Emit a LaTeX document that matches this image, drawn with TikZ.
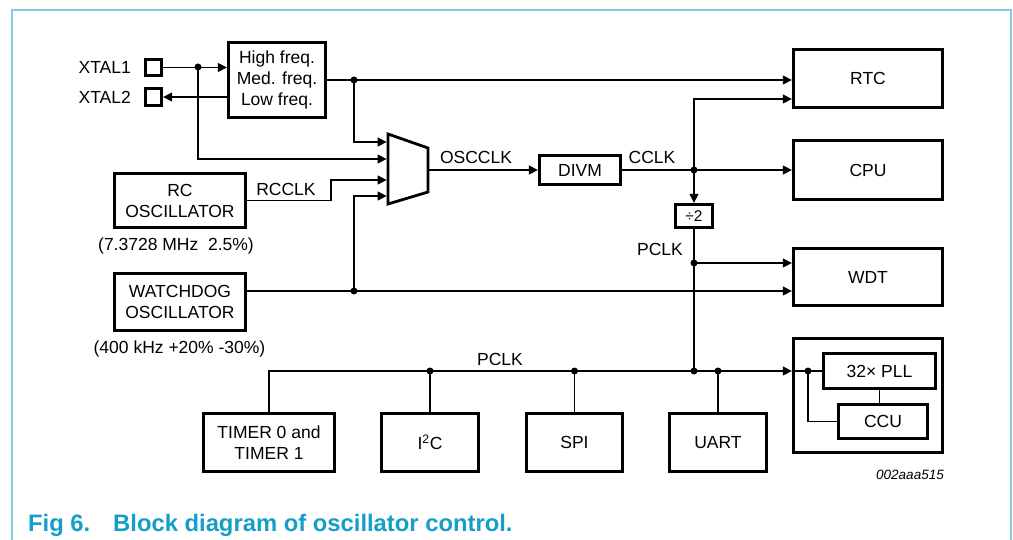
\documentclass[tikz,border=0pt]{standalone}
\usepackage{fontspec}
\setmainfont{Liberation Sans}
\usetikzlibrary{arrows.meta,calc}
\definecolor{framec}{RGB}{130,205,228}
\definecolor{capc}{RGB}{20,158,200}
\newcommand{\dfont}{\fontsize{17.5}{21}\selectfont}
\newcommand{\sfont}{\fontsize{15.5}{18}\selectfont}
\newcommand{\tfont}{\fontsize{13.5}{16}\selectfont\itshape}
\newcommand{\cfont}{\fontsize{23.8}{27}\selectfont\bfseries}
\begin{document}
\begin{tikzpicture}[x=1pt,y=-1pt,
  box/.style={draw, line width=2.8pt, inner sep=0pt, align=center, font=\dfont},
  ln/.style={line width=1.4pt},
  arr/.style={ln, -{Triangle[length=9pt,width=9pt]}},
  lbl/.style={font=\dfont, inner sep=0pt}]
\useasboundingbox (0,0) rectangle (1013,540);
% frame
\draw[framec, line width=2pt] (12,540) -- (12,10) -- (1011,10) -- (1011,540);
% caption
\node[anchor=base west, font=\cfont, text=capc, inner sep=0pt] (figno) at (28,531) {Fig 6.};
\node[anchor=base west, font=\cfont, text=capc, inner sep=0pt] (figcap) at (113,531) {Block diagram of oscillator control.};

% pins
\node[box, minimum size=16.5] (x1) at (153.5,67.5) {};
\node[box, minimum size=16.5] (x2) at (153.5,97) {};
\node[lbl, anchor=east] (tx1) at (131,67) {XTAL1};
\node[lbl, anchor=east] (tx2) at (131,97.5) {XTAL2};

% boxes
\node[box, minimum width=97.5, minimum height=74.5] (freq) at (277,80) {High freq.\\Med. freq.\\Low freq.};
\node[box, minimum width=131.5, minimum height=54.5] (rc) at (180,200.5) {RC\\OSCILLATOR};
\node[box, minimum width=131.5, minimum height=57.5] (wd) at (180,302) {WATCHDOG\\OSCILLATOR};
\node[box, minimum width=81.5, minimum height=28.5] (divm) at (580,170) {DIVM};
\node[box, minimum width=36.5, minimum height=23.5, font=\sfont] (div2) at (694,216) {÷2};
\node[box, minimum width=149.5, minimum height=58.5] (rtc) at (868,78.5) {RTC};
\node[box, minimum width=149.5, minimum height=58.5] (cpu) at (868,170) {CPU};
\node[box, minimum width=149.5, minimum height=57.5] (wdt) at (868,277) {WDT};
\node[box, minimum width=131.5, minimum height=58.5] (timer) at (269,442.5) {TIMER 0 and\\TIMER 1};
\node[box, minimum width=97.5, minimum height=58.5] (i2c) at (430,442.5) {I\textsuperscript{2}C};
\node[box, minimum width=96.5, minimum height=58.5] (spi) at (574.5,442.5) {SPI};
\node[box, minimum width=97.5, minimum height=58.5] (uart) at (718,442.5) {UART};
\node[box, minimum width=149.5, minimum height=114.5] (outer) at (868,395.5) {};
\node[box, minimum width=112.5, minimum height=35.5] (pll) at (879.5,371) {32× PLL};
\node[box, minimum width=89.5, minimum height=34.5] (ccu) at (883,421.5) {CCU};

% mux
\coordinate (m1) at (388,134);
\coordinate (m2) at (428,148);
\coordinate (m3) at (428,192);
\coordinate (m4) at (388,204);
\draw[line width=2.8pt, line join=miter] (m1) -- (m2) -- (m3) -- (m4) -- cycle;
\coordinate (in1) at (386.6,142);
\coordinate (in2) at (386.6,159);
\coordinate (in3) at (386.6,180);
\coordinate (in4) at (386.6,196);
\coordinate (mout) at (429.4,170);

% labels
\node[lbl] (tosc) at (476,157) {OSCCLK};
\node[lbl] (tcclk) at (652,157) {CCLK};
\node[lbl] (tpclk1) at (660,249) {PCLK};
\node[lbl] (tpclk2) at (500,359) {PCLK};
\node[lbl] (trcclk) at (286,189) {RCCLK};
\node[lbl] (trcf) at (176,245.5) {(7.3728 MHz\ \ 2.5\%)};
\node[lbl] (twdf) at (179.5,348.5) {(400 kHz +20\% -30\%)};
\node[font=\tfont, inner sep=0pt] (tid) at (910,474.5) {002aaa515};

% helper coordinates
\coordinate (d1) at (198,67);
\coordinate (d2) at (354,80);
\coordinate (d3) at (354,291);
\coordinate (d4) at (694,170);
\coordinate (d5) at (694,263);
\coordinate (y99) at (0,99);
\coordinate (rcb) at (331,180);
\coordinate (wdo) at (247,291);
\coordinate (busy) at (0,371);
\coordinate (b1) at (430,371);
\coordinate (b2) at (574.5,371);
\coordinate (b3) at (694,371);
\coordinate (b4) at (718,371);
\coordinate (d7) at (808,371);

% connectors
\draw[arr] (x1.east) -- (x1.east -| freq.west);
\draw[arr] (x2.east -| freq.west) -- (x2.east);
\draw[arr] (d1) |- (in2);
\draw[ln] (freq.east) -- (d2);
\draw[arr] (d2) -- (d2 -| rtc.west);
\draw[arr] (d2) |- (in1);
\draw[arr] (rc.east) -| (rcb) -- (in3);
\draw[arr] (wdo) -- (wdo -| wdt.west);
\draw[arr] (d3) |- (in4);
\draw[arr] (mout) -- (divm.west);
\draw[arr] (divm.east) -- (cpu.west);
\draw[arr] (d4) |- (rtc.west |- y99);
\draw[arr] (d4) -- (div2.north);
\draw[ln] (div2.south) -- (b3);
\draw[arr] (d5) -- (d5 -| wdt.west);
\draw[arr] (timer.north) |- (outer.west |- busy);
\draw[ln] (i2c.north) -- (b1);
\draw[ln] (spi.north) -- (b2);
\draw[ln] (uart.north) -- (b4);
\draw[ln] (outer.west |- busy) -- (pll.west);
\draw[ln] (d7) |- (ccu.west);
\draw[ln] (pll.south) -- (pll.south |- ccu.north);

% dots
\foreach \d in {d1,d2,d3,d4,d5,b1,b2,b3,b4,d7}
  \fill (\d) circle (3.5);
\end{tikzpicture}
\end{document}
